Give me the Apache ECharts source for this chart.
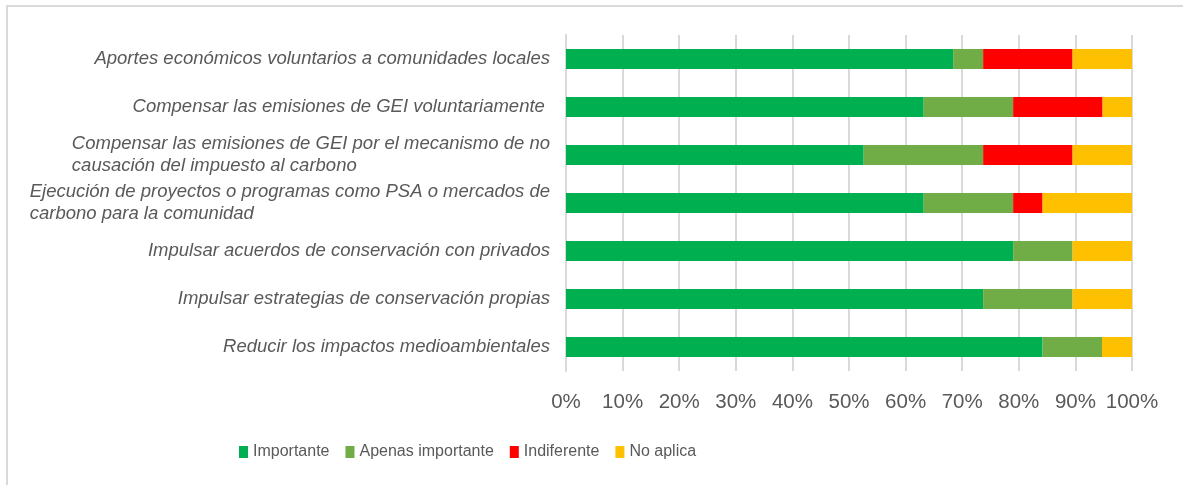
<!DOCTYPE html>
<html>
<head>
<meta charset="utf-8">
<script src="https://cdn.jsdelivr.net/npm/echarts@6/dist/echarts.min.js"></script>
<style>
  html, body { margin: 0; padding: 0; background: #fff; }
  #frame { position: absolute; left: 6px; top: 5px; width: 1177px; height: 480px;
           border-left: 2px solid #D9D9D9; border-top: 2px solid #D9D9D9; box-sizing: border-box; }
  #chart { position: absolute; left: 0; top: 0; width: 1183px; height: 485px; }
</style>
</head>
<body>
<div id="frame"></div>
<div id="chart"></div>
<script>
const categories = [
  "Aportes económicos voluntarios a comunidades locales",
  "Compensar las emisiones de GEI voluntariamente ",
  "Compensar las emisiones de GEI por el mecanismo de no\ncausación del impuesto al carbono",
  "Ejecución de proyectos o programas como PSA o mercados de\ncarbono para la comunidad",
  "Impulsar acuerdos de conservación con privados",
  "Impulsar estrategias de conservación propias",
  "Reducir los impactos medioambientales"
];
const seriesNames = ["Importante", "Apenas importante", "Indiferente", "No aplica"];
const importante = [68.4, 63.2, 52.6, 63.2, 79.0, 73.7, 84.2];
const apenasImportante = [5.3, 15.8, 21.1, 15.8, 10.5, 15.8, 10.5];
const indiferente = [15.8, 15.8, 15.8, 5.2, 0, 0, 0];
const noAplica = [10.5, 5.2, 10.5, 15.8, 10.5, 10.5, 5.3];
const colors = ["#00B050", "#70AD47", "#FF0000", "#FFC000"];

const chart = echarts.init(document.getElementById('chart'), null, { renderer: 'canvas' });
const values = [importante, apenasImportante, indiferente, noAplica];
const series = seriesNames.map((name, i) => ({
  name: name,
  type: 'bar',
  stack: 'total',
  barWidth: 20,
  data: values[i],
  itemStyle: { color: colors[i] },
  emphasis: { disabled: true }
}));

const labelFont = '"Liberation Sans", Arial, sans-serif';

chart.setOption({
  animation: false,
  color: colors,
  grid: { left: 566, right: 51, top: 35, bottom: 114, containLabel: false },
  xAxis: {
    type: 'value', min: 0, max: 100, interval: 10,
    axisLine: { show: false },
    axisTick: { show: false },
    splitLine: { show: true, lineStyle: { color: '#D9D9D9', width: 2 } },
    axisLabel: {
      formatter: '{value}%', color: '#595959', fontSize: 20.5,
      fontFamily: labelFont, margin: 21
    }
  },
  yAxis: {
    type: 'category', data: categories, inverse: true,
    axisLine: { show: true, lineStyle: { color: '#D9D9D9', width: 2 } },
    axisTick: { show: false },
    axisLabel: {
      color: '#595959', fontSize: 18.5, fontStyle: 'italic', lineHeight: 22,
      fontFamily: labelFont, margin: 16, align: 'right',
      formatter: function (v) {
        return v.split('\n').map(function (s) { return '{l|' + s + '}'; }).join('\n');
      },
      rich: {
        l: { align: 'left', color: '#595959', fontSize: 18.5, fontStyle: 'italic',
             lineHeight: 22, fontFamily: labelFont }
      }
    }
  },
  legend: {
    data: seriesNames,
    left: 234, top: 439,
    icon: 'rect', itemWidth: 9, itemHeight: 12, itemGap: 16,
    textStyle: { color: '#595959', fontSize: 16, fontFamily: labelFont }
  },
  series: series
});
</script>
</body>
</html>
